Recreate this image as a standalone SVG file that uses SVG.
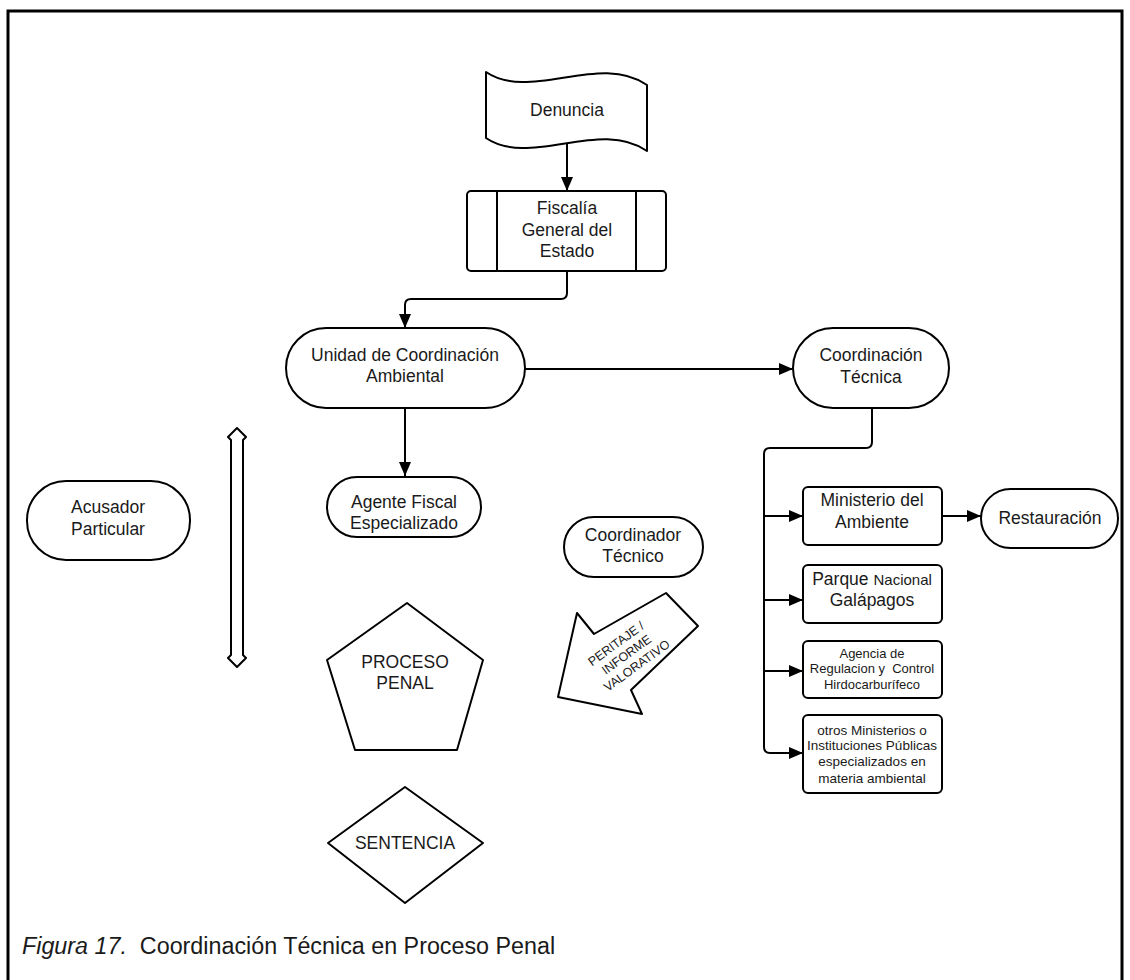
<svg xmlns="http://www.w3.org/2000/svg" width="1130" height="980" viewBox="0 0 1130 980">
<style>
.s{fill:#fff;stroke:#000;stroke-width:2;stroke-linejoin:round}
.c{fill:none;stroke:#000;stroke-width:2;stroke-linejoin:round}
text{font-family:"Liberation Sans",Arial,sans-serif;font-size:17.5px;fill:#1a1a1a;text-anchor:middle}
.sm{font-size:13px}
.sm2{font-size:13.5px}
.pt{font-size:12.5px}
</style>
<defs>
<marker id="ah" markerUnits="userSpaceOnUse" viewBox="0 0 14 12" markerWidth="14" markerHeight="12" refX="14" refY="6" orient="auto">
<path d="M0,0 L14,6 L0,12 Z" fill="#000"/>
</marker>
</defs>
<rect width="1130" height="980" fill="#fff"/>
<path d="M8,980 V11 H1122 V980" fill="none" stroke="#000" stroke-width="3"/>

<g id="connectors">
<path class="c" d="M567,143 V191" marker-end="url(#ah)"/>
<path class="c" d="M567,271 V293 Q567,299 561,299 H411 Q405,299 405,305 V328" marker-end="url(#ah)"/>
<path class="c" d="M525,369 H793" marker-end="url(#ah)"/>
<path class="c" d="M405,408 V476" marker-end="url(#ah)"/>
<path class="c" d="M872,408 V442 Q872,448 866,448 H770 Q764,448 764,454 V747 Q764,753 770,753 H803" marker-end="url(#ah)"/>
<path class="c" d="M764,516 H803" marker-end="url(#ah)"/>
<path class="c" d="M764,600 H803" marker-end="url(#ah)"/>
<path class="c" d="M764,671 H803" marker-end="url(#ah)"/>
<path class="c" d="M942,516 H981" marker-end="url(#ah)"/>
</g>

<g id="denuncia">
<path class="s" d="M486,72 C530,102 600,52 647,85 L647,151 C600,118 530,168 486,138 Z"/>
<text x="567" y="116">Denuncia</text>
</g>

<g id="fiscalia">
<rect class="s" x="467" y="191" width="199" height="80" rx="4"/>
<line class="c" x1="497" y1="191" x2="497" y2="271"/>
<line class="c" x1="636" y1="191" x2="636" y2="271"/>
<text x="567" y="214">Fiscalía</text>
<text x="567" y="236">General del</text>
<text x="567" y="257">Estado</text>
</g>

<g id="unidad">
<rect class="s" x="286" y="328" width="239" height="80" rx="40"/>
<text x="405" y="361">Unidad de Coordinación</text>
<text x="405" y="382">Ambiental</text>
</g>

<g id="coordinacion-tecnica">
<rect class="s" x="793" y="328" width="156" height="80" rx="40"/>
<text x="871" y="361">Coordinación</text>
<text x="871" y="383">Técnica</text>
</g>

<g id="acusador">
<rect class="s" x="27" y="481" width="163" height="79" rx="39"/>
<text x="108" y="513">Acusador</text>
<text x="108" y="535">Particular</text>
</g>

<g id="doble-flecha">
<path class="s" d="M237,428 L246,437 L243,440 L243,655 L246,658 L237,667 L228,658 L231,655 L231,440 L228,437 Z"/>
</g>

<g id="agente">
<rect class="s" x="327" y="477" width="154" height="60" rx="30"/>
<text x="404" y="508">Agente Fiscal</text>
<text x="404" y="529">Especializado</text>
</g>

<g id="coordinador">
<rect class="s" x="564" y="517" width="139" height="60" rx="30"/>
<text x="633" y="541">Coordinador</text>
<text x="633" y="562">Técnico</text>
</g>

<g id="peritaje">
<polygon class="s" points="558,697 577,613 594,634 666,593 698,626 631,690 642,714"/>
<g transform="translate(628,655) rotate(-36)">
<text class="pt" x="-3" y="-12">PERITAJE /</text>
<text class="pt" x="-1" y="3">INFORME</text>
<text class="pt" x="1" y="18">VALORATIVO</text>
</g>
</g>

<g id="proceso">
<polygon class="s" points="407,603 483,660 457,750 355,750 327,660"/>
<text x="405" y="668">PROCESO</text>
<text x="405" y="689">PENAL</text>
</g>

<g id="sentencia">
<polygon class="s" points="405,787 483,843 405,903 328,843"/>
<text x="405" y="849">SENTENCIA</text>
</g>

<g id="ministerio">
<rect class="s" x="803" y="487" width="139" height="58" rx="5"/>
<text x="872" y="506">Ministerio del</text>
<text x="872" y="528">Ambiente</text>
</g>

<g id="restauracion">
<rect class="s" x="981" y="489" width="137" height="59" rx="29.5"/>
<text x="1050" y="524">Restauración</text>
</g>

<g id="parque">
<rect class="s" x="803" y="565" width="139" height="58" rx="5"/>
<text x="872" y="585">Parque <tspan style="font-size:15px">Nacional</tspan></text>
<text x="872" y="606">Galápagos</text>
</g>

<g id="agencia">
<rect class="s" x="803" y="641" width="139" height="57" rx="5"/>
<text class="sm" x="872" y="658">Agencia de</text>
<text class="sm" x="872" y="673" xml:space="preserve">Regulacion y  Control</text>
<text class="sm" x="872" y="689">Hirdocarburífeco</text>
</g>

<g id="otros">
<rect class="s" x="803" y="715" width="139" height="78" rx="5"/>
<text class="sm2" x="872" y="735">otros Ministerios o</text>
<text class="sm2" x="872" y="750">Instituciones Públicas</text>
<text class="sm2" x="872" y="766">especializados en</text>
<text class="sm2" x="872" y="783">materia ambiental</text>
</g>

<text x="22" y="954" style="font-size:23.3px;text-anchor:start"><tspan font-style="italic">Figura 17.</tspan><tspan xml:space="preserve">  Coordinación Técnica en Proceso Penal</tspan></text>
</svg>
